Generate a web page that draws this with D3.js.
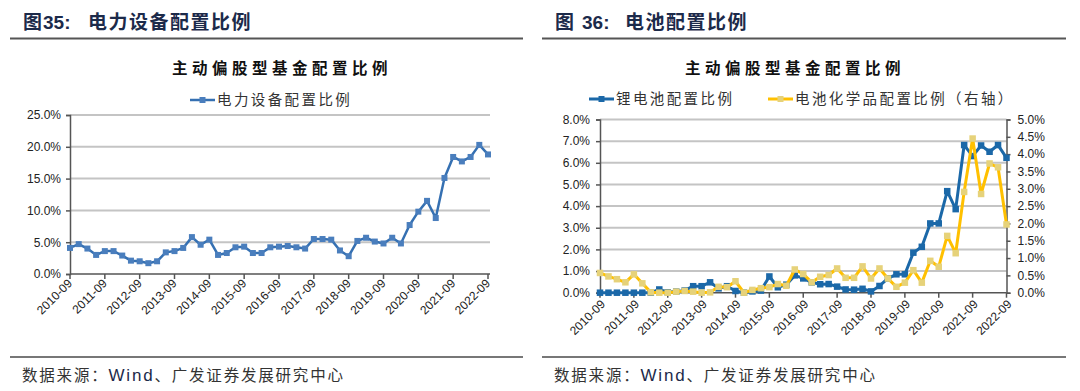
<!DOCTYPE html>
<html><head><meta charset="utf-8">
<script src="https://cdn.jsdelivr.net/npm/d3@7/dist/d3.min.js"></script>
<style>
body{margin:0;background:#fff;}
svg{display:block;}
</style></head><body>
<svg id="c" width="1080" height="391"></svg>
<script>
// ---------- data ----------
const quarters = [
 "2010-09","2010-12","2011-03","2011-06","2011-09","2011-12","2012-03","2012-06",
 "2012-09","2012-12","2013-03","2013-06","2013-09","2013-12","2014-03","2014-06",
 "2014-09","2014-12","2015-03","2015-06","2015-09","2015-12","2016-03","2016-06",
 "2016-09","2016-12","2017-03","2017-06","2017-09","2017-12","2018-03","2018-06",
 "2018-09","2018-12","2019-03","2019-06","2019-09","2019-12","2020-03","2020-06",
 "2020-09","2020-12","2021-03","2021-06","2021-09","2021-12","2022-03","2022-06",
 "2022-09"];
const tickLabels = ["2010-09","2011-09","2012-09","2013-09","2014-09","2015-09","2016-09",
 "2017-09","2018-09","2019-09","2020-09","2021-09","2022-09"];
// 图35 电力设备配置比例 (%)
const powerEquip = [4.1,4.7,4.0,3.0,3.6,3.6,2.9,2.1,2.0,1.7,2.0,3.4,3.6,4.1,5.8,4.6,5.4,3.0,3.3,4.2,4.3,3.3,3.3,
 4.2,4.3,4.4,4.2,4.0,5.5,5.5,5.4,3.7,2.8,5.2,5.7,5.1,4.8,5.7,4.8,7.7,9.8,11.5,8.8,15.1,18.4,17.7,18.4,20.3,18.8];
// 图36 锂电池配置比例 (%, left axis)
const lithium = [0,0,0,0,0,0,0,0.15,0.02,0.05,0.1,0.3,0.3,0.48,0.2,0.3,0.08,0.0,0.06,0.1,0.75,0.25,0.37,0.8,
 0.66,0.48,0.39,0.4,0.28,0.15,0.14,0.18,0.06,0.31,0.66,0.85,0.85,1.85,2.12,3.2,3.2,4.69,3.86,6.82,6.31,6.8,6.51,6.82,6.23];
// 图36 电池化学品配置比例 (%, right axis)
const batteryChem = [0.57,0.47,0.39,0.3,0.53,0.27,0.01,0.0,0.0,0.03,0.05,0.03,0.0,0.01,0.17,0.16,0.33,0.0,0.08,0.13,
 0.16,0.25,0.2,0.67,0.54,0.3,0.46,0.51,0.7,0.43,0.43,0.76,0.41,0.7,0.41,0.17,0.29,0.65,0.29,0.92,0.75,1.64,1.14,
 2.91,4.45,2.85,3.73,3.62,1.97];
const leftTicks = [0,5,10,15,20,25];
const rightLeftTicks = [0,1,2,3,4,5,6,7,8];
const rightRightTicks = [0,0.5,1,1.5,2,2.5,3,3.5,4,4.5,5];

const svg = d3.select("#c");
const CJK = "'Noto Sans CJK SC', sans-serif";
const NUM = "'Liberation Sans', Arial, sans-serif";
const TITLE_COLOR = "#1c2a4a";

// ---------- panel frame (header, rules, footer) ----------
function frame(x0, x1, numLabel, numX, name, tx, nameX){
  const g = svg.append("g");
  g.append("text").attr("x", tx).attr("y", 29)
    .attr("font-family", CJK).attr("font-size", 19).attr("font-weight", "bold")
    .attr("fill", TITLE_COLOR).text("图");
  g.append("text").attr("x", numX).attr("y", 29)
    .attr("font-family", NUM).attr("font-size", 19).attr("font-weight", "bold")
    .attr("fill", TITLE_COLOR).text(numLabel);
  g.append("text").attr("x", nameX).attr("y", 29)
    .attr("font-family", CJK).attr("font-size", 19).attr("font-weight", "bold")
    .attr("letter-spacing", 1.5).attr("fill", TITLE_COLOR).text(name);
  g.append("line").attr("x1", x0).attr("x2", x1).attr("y1", 38.5).attr("y2", 38.5)
    .attr("stroke", "#555").attr("stroke-width", 2);
  g.append("line").attr("x1", x0).attr("x2", x1).attr("y1", 357).attr("y2", 357)
    .attr("stroke", "#777").attr("stroke-width", 2);
  const f = g.append("text").attr("x", tx - 1).attr("y", 381)
    .attr("font-family", CJK).attr("font-size", 15.5).attr("fill", "#333").attr("letter-spacing", 1.8);
  f.append("tspan").text("数据来源：");
  f.append("tspan").attr("font-family", NUM).attr("fill", "#1c2a4a").attr("font-size", 17).text("Wind");
  f.append("tspan").text("、广发证券发展研究中心");
}
frame(10, 523, "35:", 43, "电力设备配置比例", 23, 88);
frame(542, 1066, "36:", 582, "电池配置比例", 555, 625);

// ---------- helpers ----------
function chartTitle(cx){
  svg.append("text").attr("x", cx).attr("y", 74).attr("text-anchor", "middle")
    .attr("font-family", CJK).attr("font-size", 15.5).attr("font-weight", "bold")
    .attr("letter-spacing", 4.5).attr("fill", "#111").text("主动偏股型基金配置比例");
}
function legendItem(x, y, color, mcolor, label, lw, ms){
  svg.append("line").attr("x1", x).attr("x2", x + 25).attr("y1", y).attr("y2", y)
    .attr("stroke", color).attr("stroke-width", lw);
  svg.append("rect").attr("x", x + 12.5 - ms/2).attr("y", y - ms/2).attr("width", ms).attr("height", ms)
    .attr("fill", mcolor);
  svg.append("text").attr("x", x + 27).attr("y", y + 5)
    .attr("font-family", CJK).attr("font-size", 14.5).attr("letter-spacing", 2.4)
    .attr("fill", "#333").text(label);
}
function series(x, y, data, color, mcolor, lw, ms){
  const line = d3.line().x((d, i) => x(quarters[i])).y(d => y(d));
  svg.append("path").datum(data).attr("d", line).attr("fill", "none")
    .attr("stroke", color).attr("stroke-width", lw).attr("stroke-linejoin", "round");
  svg.append("g").selectAll("rect").data(data).join("rect")
    .attr("x", (d, i) => x(quarters[i]) - ms/2).attr("y", d => y(d) - ms/2)
    .attr("width", ms).attr("height", ms).attr("fill", mcolor);
}
function xAxisLabels(x, y0, dx, dy){
  const g = svg.append("g");
  g.selectAll("line").data(tickLabels).join("line")
    .attr("x1", d => x(d)).attr("x2", d => x(d)).attr("y1", y0).attr("y2", y0 + 5)
    .attr("stroke", "#555").attr("stroke-width", 1.5);
  g.selectAll("text").data(tickLabels).join("text")
    .attr("transform", d => `translate(${x(d) + dx},${y0 + dy}) rotate(-45)`)
    .attr("text-anchor", "end").attr("font-family", NUM).attr("font-size", 12)
    .attr("fill", "#222").text(d => d);
}

// ---------- left chart ----------
{
  const x = d3.scalePoint().domain(quarters).range([70, 488]);
  const y = d3.scaleLinear().domain([0, 25]).range([274, 115]);
  chartTitle(282);
  legendItem(190, 100, "#3570b2", "#4a7ebd", "电力设备配置比例", 2.5, 6);
  svg.append("g").selectAll("line").data(leftTicks.slice(1)).join("line")
    .attr("x1", 70).attr("x2", 490).attr("y1", d => y(d)).attr("y2", d => y(d))
    .attr("stroke", "#c4c4c4").attr("stroke-width", 2);
  const ya = svg.append("g").attr("transform", "translate(70,0)")
    .call(d3.axisLeft(y).tickValues(leftTicks).tickSize(4).tickPadding(5).tickFormat(d => d.toFixed(1) + "%"));
  ya.select(".domain").attr("stroke", "#555").attr("stroke-width", 1.5);
  ya.selectAll(".tick line").attr("stroke", "#555").attr("stroke-width", 1.5);
  ya.selectAll("text").attr("font-family", NUM).attr("font-size", 12).attr("fill", "#222");
  svg.append("line").attr("x1", 70).attr("x2", 490).attr("y1", 274).attr("y2", 274)
    .attr("stroke", "#555").attr("stroke-width", 1.5);
  xAxisLabels(x, 274, 3, 10);
  series(x, y, powerEquip, "#3570b2", "#4a7ebd", 2.5, 6);
}

// ---------- right chart ----------
{
  const x = d3.scalePoint().domain(quarters).range([600, 1006.5]);
  const yL = d3.scaleLinear().domain([0, 8]).range([292.7, 119.5]);
  const yR = d3.scaleLinear().domain([0, 5]).range([292.7, 119.5]);
  chartTitle(795);
  legendItem(589, 99, "#1b68a8", "#1b68a8", "锂电池配置比例", 3, 6);
  legendItem(768, 99, "#ffc000", "#e6d27a", "电池化学品配置比例（右轴）", 3, 6);
  svg.append("g").selectAll("line").data(rightLeftTicks.slice(1)).join("line")
    .attr("x1", 600).attr("x2", 1006.5).attr("y1", d => yL(d)).attr("y2", d => yL(d))
    .attr("stroke", "#c4c4c4").attr("stroke-width", 2);
  const yl = svg.append("g").attr("transform", "translate(600,0)")
    .call(d3.axisLeft(yL).tickValues(rightLeftTicks).tickSize(4).tickPadding(6).tickFormat(d => d.toFixed(1) + "%"));
  const yr = svg.append("g").attr("transform", "translate(1006.5,0)")
    .call(d3.axisRight(yR).tickValues(rightRightTicks).tickSize(4).tickPadding(7).tickFormat(d => d.toFixed(1) + "%"));
  [yl, yr].forEach(a => {
    a.select(".domain").attr("stroke", "#555").attr("stroke-width", 1.5);
    a.selectAll(".tick line").attr("stroke", "#555").attr("stroke-width", 1.5);
    a.selectAll("text").attr("font-family", NUM).attr("font-size", 12).attr("fill", "#222");
  });
  svg.append("line").attr("x1", 600).attr("x2", 1006.5).attr("y1", 292.7).attr("y2", 292.7)
    .attr("stroke", "#555").attr("stroke-width", 1.5);
  xAxisLabels(x, 292.7, 6, 12);
  series(x, yL, lithium, "#1b68a8", "#1b68a8", 3, 6.5);
  series(x, yR, batteryChem, "#ffc000", "#e6d27a", 3, 6.5);
}
</script>
</body></html>
